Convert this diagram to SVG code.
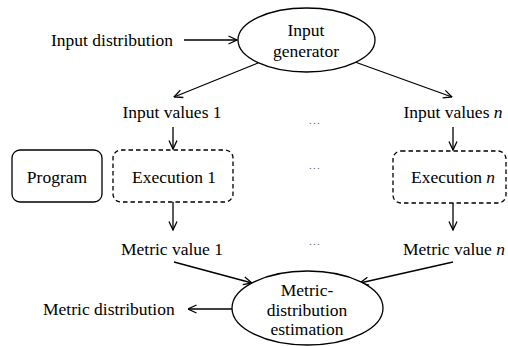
<svg xmlns="http://www.w3.org/2000/svg" width="508" height="346" viewBox="0 0 508 346">
  <defs>
    <marker id="arrow" viewBox="0 0 10 10" refX="9.5" refY="5" markerWidth="10" markerHeight="10" markerUnits="userSpaceOnUse" orient="auto">
      <path d="M1,1 L9.5,5 L1,9" fill="none" stroke="#000" stroke-width="1.3"/>
    </marker>
  </defs>
  <style>
    text { font-family: "Liberation Serif", "Times New Roman", serif; font-size: 17.5px; fill: #000; }
    .mid { text-anchor: middle; }
    .shape { fill: #fff; stroke: #000; stroke-width: 1.3; }
    .dashed { fill: #fff; stroke: #000; stroke-width: 1.3; stroke-dasharray: 4.5 3; }
    .edge { fill: none; stroke: #000; stroke-width: 1.3; marker-end: url(#arrow); }
    .dots { font-size: 11px; fill: #666; letter-spacing: 1.2px; }
  </style>
  <rect width="508" height="346" fill="#fff"/>

  <!-- connectors -->
  <g id="connectors">
    <line class="edge" x1="184" y1="40" x2="237" y2="40"/>
    <line class="edge" x1="258" y1="63" x2="174" y2="97"/>
    <line class="edge" x1="355" y1="62" x2="452" y2="97"/>
    <line class="edge" x1="173" y1="127" x2="173" y2="149"/>
    <line class="edge" x1="453" y1="127" x2="453" y2="150"/>
    <line class="edge" x1="173" y1="202" x2="173" y2="230"/>
    <line class="edge" x1="453" y1="203" x2="453" y2="230"/>
    <line class="edge" x1="174" y1="262" x2="252" y2="283"/>
    <line class="edge" x1="453" y1="262" x2="360" y2="283"/>
    <line class="edge" x1="232" y1="309" x2="188" y2="309"/>
  </g>

  <g id="input-distribution">
    <text x="51" y="46">Input distribution</text>
  </g>

  <g id="input-generator">
    <ellipse class="shape" cx="306.5" cy="40" rx="68.5" ry="32"/>
    <text class="mid" x="306" y="36">Input</text>
    <text class="mid" x="306" y="57">generator</text>
  </g>

  <g id="input-values-1">
    <text class="mid" x="172" y="118">Input values 1</text>
  </g>

  <g id="input-values-n">
    <text class="mid" x="453" y="118">Input values <tspan font-style="italic">n</tspan></text>
  </g>

  <g id="program">
    <rect class="shape" x="12" y="150" width="90" height="52" rx="8"/>
    <text class="mid" x="57" y="183">Program</text>
  </g>

  <g id="execution-1">
    <rect class="dashed" x="113" y="150" width="120" height="52" rx="8"/>
    <text class="mid" x="174" y="183">Execution 1</text>
  </g>

  <g id="execution-n">
    <rect class="dashed" x="393" y="151" width="113" height="52" rx="8"/>
    <text class="mid" x="453" y="183">Execution <tspan font-style="italic">n</tspan></text>
  </g>

  <g id="ellipses">
    <text class="mid dots" x="315" y="124">...</text>
    <text class="mid dots" x="315" y="169">...</text>
    <text class="mid dots" x="315" y="245">...</text>
  </g>

  <g id="metric-value-1">
    <text class="mid" x="172" y="255">Metric value 1</text>
  </g>

  <g id="metric-value-n">
    <text class="mid" x="454" y="255">Metric value <tspan font-style="italic">n</tspan></text>
  </g>

  <g id="metric-distribution-estimation">
    <ellipse class="shape" cx="307.5" cy="308" rx="75.5" ry="37"/>
    <text class="mid" x="307" y="296">Metric-</text>
    <text class="mid" x="307" y="315.5">distribution</text>
    <text class="mid" x="307" y="335">estimation</text>
  </g>

  <g id="metric-distribution">
    <text x="43" y="315">Metric distribution</text>
  </g>
</svg>
